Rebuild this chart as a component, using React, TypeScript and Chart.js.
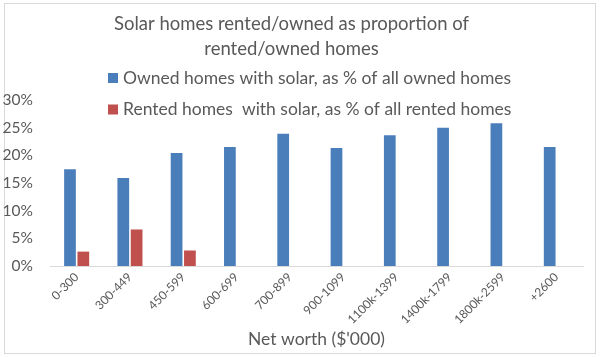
import React, { useEffect, useRef } from "react";
import { Chart, registerables } from "chart.js";

Chart.register(...registerables);

const categories = [
  "0-300",
  "300-449",
  "450-599",
  "600-699",
  "700-899",
  "900-1099",
  "1100k-1399",
  "1400k-1799",
  "1800k-2599",
  "+2600",
];
const ownedValues = [17.5, 15.9, 20.4, 21.5, 23.9, 21.3, 23.6, 25.0, 25.8, 21.5];
const rentedValues: (number | null)[] = [2.6, 6.6, 2.8, null, null, null, null, null, null, null];
const titleLines = ["Solar homes rented/owned as proportion of", "rented/owned homes"];
const ownedLabel = "Owned homes with solar, as % of all owned homes";
const rentedLabel = "Rented homes  with solar, as % of all rented homes";
const xAxisTitle = "Net worth ($'000)";

const FONT = "Lato, 'Open Sans', sans-serif";
const TEXT = "#595959";
const BLUE = "#4A7EBB";
const RED = "#C0504D";

const frameAndLegend = {
  id: "frameAndLegend",
  beforeDraw(chart: any) {
    const ctx = chart.ctx;
    ctx.save();
    ctx.fillStyle = "#ffffff";
    ctx.fillRect(0, 0, chart.width, chart.height);
    ctx.strokeStyle = "#d9d9d9";
    ctx.lineWidth = 1;
    ctx.strokeRect(4.5, 3.5, 591, 350);
    ctx.restore();
  },
  afterDraw(chart: any) {
    const ctx = chart.ctx;
    ctx.save();
    ctx.font = `17.5px ${FONT}`;
    ctx.textBaseline = "middle";
    ctx.textAlign = "left";
    const rows = [78, 109.5];
    chart.data.datasets.forEach((ds: any, i: number) => {
      const y = rows[i];
      ctx.fillStyle = ds.backgroundColor;
      ctx.fillRect(108, y - 5, 10, 10);
      ctx.fillStyle = TEXT;
      ctx.fillText(ds.label, 123, y);
    });
    ctx.restore();
  },
};

export default function App() {
  const ref = useRef<HTMLCanvasElement | null>(null);

  useEffect(() => {
    if (!ref.current) return;
    const chart = new Chart(ref.current, {
      type: "bar",
      data: {
        labels: categories,
        datasets: [
          {
            label: ownedLabel,
            data: ownedValues,
            backgroundColor: BLUE,
            categoryPercentage: 0.5,
            barPercentage: 0.88,
          },
          {
            label: rentedLabel,
            data: rentedValues,
            backgroundColor: RED,
            categoryPercentage: 0.5,
            barPercentage: 0.88,
          },
        ],
      },
      options: {
        animation: false,
        responsive: false,
        layout: { padding: { left: 0, right: 17, top: 0, bottom: 3 } },
        plugins: {
          legend: { display: false },
          tooltip: { enabled: false },
          title: {
            display: true,
            text: titleLines,
            color: TEXT,
            font: { family: FONT, size: 18.5, weight: "normal", lineHeight: 1.35 },
            padding: { top: 12, bottom: 38 },
          },
        },
        scales: {
          x: {
            grid: { display: false, drawTicks: false },
            border: { display: true, color: "#d9d9d9", width: 1 },
            ticks: {
              color: TEXT,
              font: { family: FONT, size: 12 },
              minRotation: 45,
              maxRotation: 45,
              padding: 4,
              autoSkip: false,
            },
            title: {
              display: true,
              text: xAxisTitle,
              color: TEXT,
              font: { family: FONT, size: 17.5 },
              padding: { top: 0, bottom: 4 },
            },
            afterFit(scale: any) {
              scale.height = 88;
            },
          },
          y: {
            min: 0,
            max: 30,
            grid: { display: false, drawTicks: false },
            border: { display: false },
            ticks: {
              stepSize: 5,
              color: TEXT,
              font: { family: FONT, size: 15.5 },
              padding: 17,
              callback: (v: any) => `${v}%`,
            },
            afterFit(scale: any) {
              scale.width = 50;
            },
          },
        },
      },
      plugins: [frameAndLegend],
    });
    return () => chart.destroy();
  }, []);

  return (
    <div style={{ position: "fixed", left: 0, top: 0, width: 600, height: 357 }}>
      <canvas ref={ref} width={600} height={357} style={{ width: 600, height: 357 }} />
    </div>
  );
}
